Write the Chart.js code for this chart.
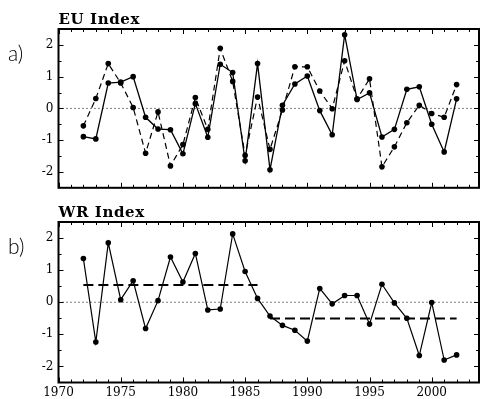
<!DOCTYPE html>
<html>
<head>
<meta charset="utf-8">
<script src="https://cdn.jsdelivr.net/npm/chart.js@4"></script>
<style>
  body { margin: 0; background: #fff; }
  .painel { position: absolute; left: 0; }
</style>
</head>
<body>
<canvas id="graficoEU" class="painel" width="483" height="200" style="top:0"></canvas>
<canvas id="graficoWR" class="painel" width="483" height="199" style="top:200px"></canvas>
<script>
// Anos e séries
const anos = [1972, 1973, 1974, 1975, 1976, 1977, 1978, 1979, 1980, 1981, 1982,
  1983, 1984, 1985, 1986, 1987, 1988, 1989, 1990, 1991, 1992, 1993, 1994, 1995,
  1996, 1997, 1998, 1999, 2000, 2001, 2002];

const euSolida = [-0.89, -0.96, 0.80, 0.83, 1.00, -0.28, -0.65, -0.67, -1.43, 0.15, -0.91,
  1.39, 1.13, -1.65, 1.41, -1.93, 0.10, 0.77, 1.02, -0.07, -0.83, 2.32, 0.28, 0.49,
  -0.90, -0.66, 0.60, 0.68, -0.50, -1.37, 0.30];

const euTracejada = [-0.55, 0.31, 1.41, 0.80, 0.03, -1.41, -0.11, -1.81, -1.14, 0.34, -0.66,
  1.89, 0.85, -1.48, 0.36, -1.29, -0.05, 1.31, 1.31, 0.55, -0.01, 1.50, 0.30, 0.93,
  -1.84, -1.21, -0.45, 0.10, -0.16, -0.28, 0.75];

const wrIndice = [1.36, -1.24, 1.85, 0.08, 0.67, -0.82, 0.05, 1.41, 0.63, 1.52, -0.24,
  -0.21, 2.13, 0.96, 0.12, -0.43, -0.72, -0.87, -1.21, 0.43, -0.05, 0.21, 0.21, -0.68,
  0.56, -0.02, -0.50, -1.66, -0.01, -1.80, -1.64];

// Médias por período (linhas tracejadas do painel b)
const periodosMedia = [[1972, 1986], [1987, 2002]];
const valoresMedia = [0.54, -0.51];

// Eixos
const xMin = 1970, xMax = 2003.8;
const yMin = -2.5, yMax = 2.5;
const yTicks = [-2, -1, 0, 1, 2];
const xRotulos = [1970, 1975, 1980, 1985, 1990, 1995, 2000];

const fonteEixo = { family: "'DejaVu Serif', serif", size: 12 };

function pontos(valores) {
  return anos.map((ano, i) => ({ x: ano, y: valores[i] }));
}

function linhaZero() {
  return {
    data: [{ x: xMin, y: 0 }, { x: xMax, y: 0 }],
    borderColor: "#000", borderWidth: 1, borderDash: [1, 3],
    pointRadius: 0, fill: false
  };
}

// Moldura, marcas internas e rótulos dos painéis
const molduraPlugin = {
  id: "moldura",
  afterDraw(chart, args, opts) {
    const ctx = chart.ctx;
    const a = chart.chartArea;
    const sx = chart.scales.x, sy = chart.scales.y;
    ctx.save();
    ctx.strokeStyle = "#000";
    ctx.lineWidth = 1;
    ctx.beginPath();
    for (let ano = 1970; ano <= 2003; ano++) {
      const px = Math.round(sx.getPixelForValue(ano)) + 0.5;
      const len = ano % 5 === 0 ? 5 : 3;
      ctx.moveTo(px, a.bottom); ctx.lineTo(px, a.bottom - len);
      ctx.moveTo(px, a.top); ctx.lineTo(px, a.top + len);
    }
    for (let v = -2; v <= 2; v += 0.5) {
      const py = Math.round(sy.getPixelForValue(v)) + 0.5;
      const len = Number.isInteger(v) ? 5 : 3;
      ctx.moveTo(a.left, py); ctx.lineTo(a.left + len, py);
      ctx.moveTo(a.right, py); ctx.lineTo(a.right - len, py);
    }
    ctx.stroke();
    ctx.lineWidth = 2;
    ctx.strokeRect(a.left, a.top, a.right - a.left, a.bottom - a.top);

    ctx.fillStyle = "#000";
    ctx.textAlign = "left";
    ctx.textBaseline = "alphabetic";
    ctx.font = "bold 15px 'DejaVu Serif', serif";
    if ("letterSpacing" in ctx) ctx.letterSpacing = "0.6px";
    ctx.fillText(opts.titulo, a.left, a.top - 5);
    if ("letterSpacing" in ctx) ctx.letterSpacing = "0px";
    ctx.font = "300 21px Lato, 'Open Sans', sans-serif";
    ctx.fillText(opts.letra, 8, a.top + 32);
    ctx.restore();
  }
};

function opcoes(titulo, letra, mostrarX, padding) {
  return {
    responsive: false,
    animation: false,
    layout: { padding: padding },
    plugins: {
      legend: { display: false },
      tooltip: { enabled: false },
      moldura: { titulo: titulo, letra: letra }
    },
    scales: {
      x: {
        type: "linear", min: xMin, max: xMax,
        display: mostrarX,
        grid: { display: false, drawTicks: false },
        border: { display: false },
        afterBuildTicks: (eixo) => { eixo.ticks = xRotulos.map((v) => ({ value: v })); },
        afterFit: (eixo) => { eixo.height = mostrarX ? 16.5 : 0; },
        ticks: { color: "#000", font: fonteEixo, padding: 3, maxRotation: 0, autoSkip: false,
          callback: (v) => String(v) }
      },
      y: {
        type: "linear", min: yMin, max: yMax,
        grid: { display: false, drawTicks: false },
        border: { display: false },
        afterBuildTicks: (eixo) => { eixo.ticks = yTicks.map((v) => ({ value: v })); },
        afterFit: (eixo) => { eixo.width = 58.5; },
        ticks: { color: "#000", font: fonteEixo, padding: 5 }
      }
    }
  };
}

// Painel a) EU Index
new Chart(document.getElementById("graficoEU").getContext("2d"), {
  type: "line",
  data: {
    datasets: [
      linhaZero(),
      {
        data: pontos(euTracejada),
        borderColor: "#000", borderWidth: 1.2, borderDash: [6, 4],
        pointRadius: 2.8, pointBackgroundColor: "#000", pointBorderWidth: 0,
        tension: 0, fill: false
      },
      {
        data: pontos(euSolida),
        borderColor: "#000", borderWidth: 1.3,
        pointRadius: 2.8, pointBackgroundColor: "#000", pointBorderWidth: 0,
        tension: 0, fill: false
      }
    ]
  },
  options: opcoes("EU Index", "a)", false, { left: 0, right: 2, top: 29, bottom: 10 }),
  plugins: [molduraPlugin]
});

// Painel b) WR Index
const mediasWR = periodosMedia.map((p, i) => ({
  data: [{ x: p[0], y: valoresMedia[i] }, { x: p[1], y: valoresMedia[i] }],
  borderColor: "#000", borderWidth: 2, borderDash: [10, 5],
  pointRadius: 0, fill: false
}));

new Chart(document.getElementById("graficoWR").getContext("2d"), {
  type: "line",
  data: {
    datasets: [
      linhaZero(),
      ...mediasWR,
      {
        data: pontos(wrIndice),
        borderColor: "#000", borderWidth: 1.2,
        pointRadius: 2.8, pointBackgroundColor: "#000", pointBorderWidth: 0,
        tension: 0, fill: false
      }
    ]
  },
  options: opcoes("WR Index", "b)", true, { left: 0, right: 2, top: 22, bottom: 0 }),
  plugins: [molduraPlugin]
});
</script>
</body>
</html>
